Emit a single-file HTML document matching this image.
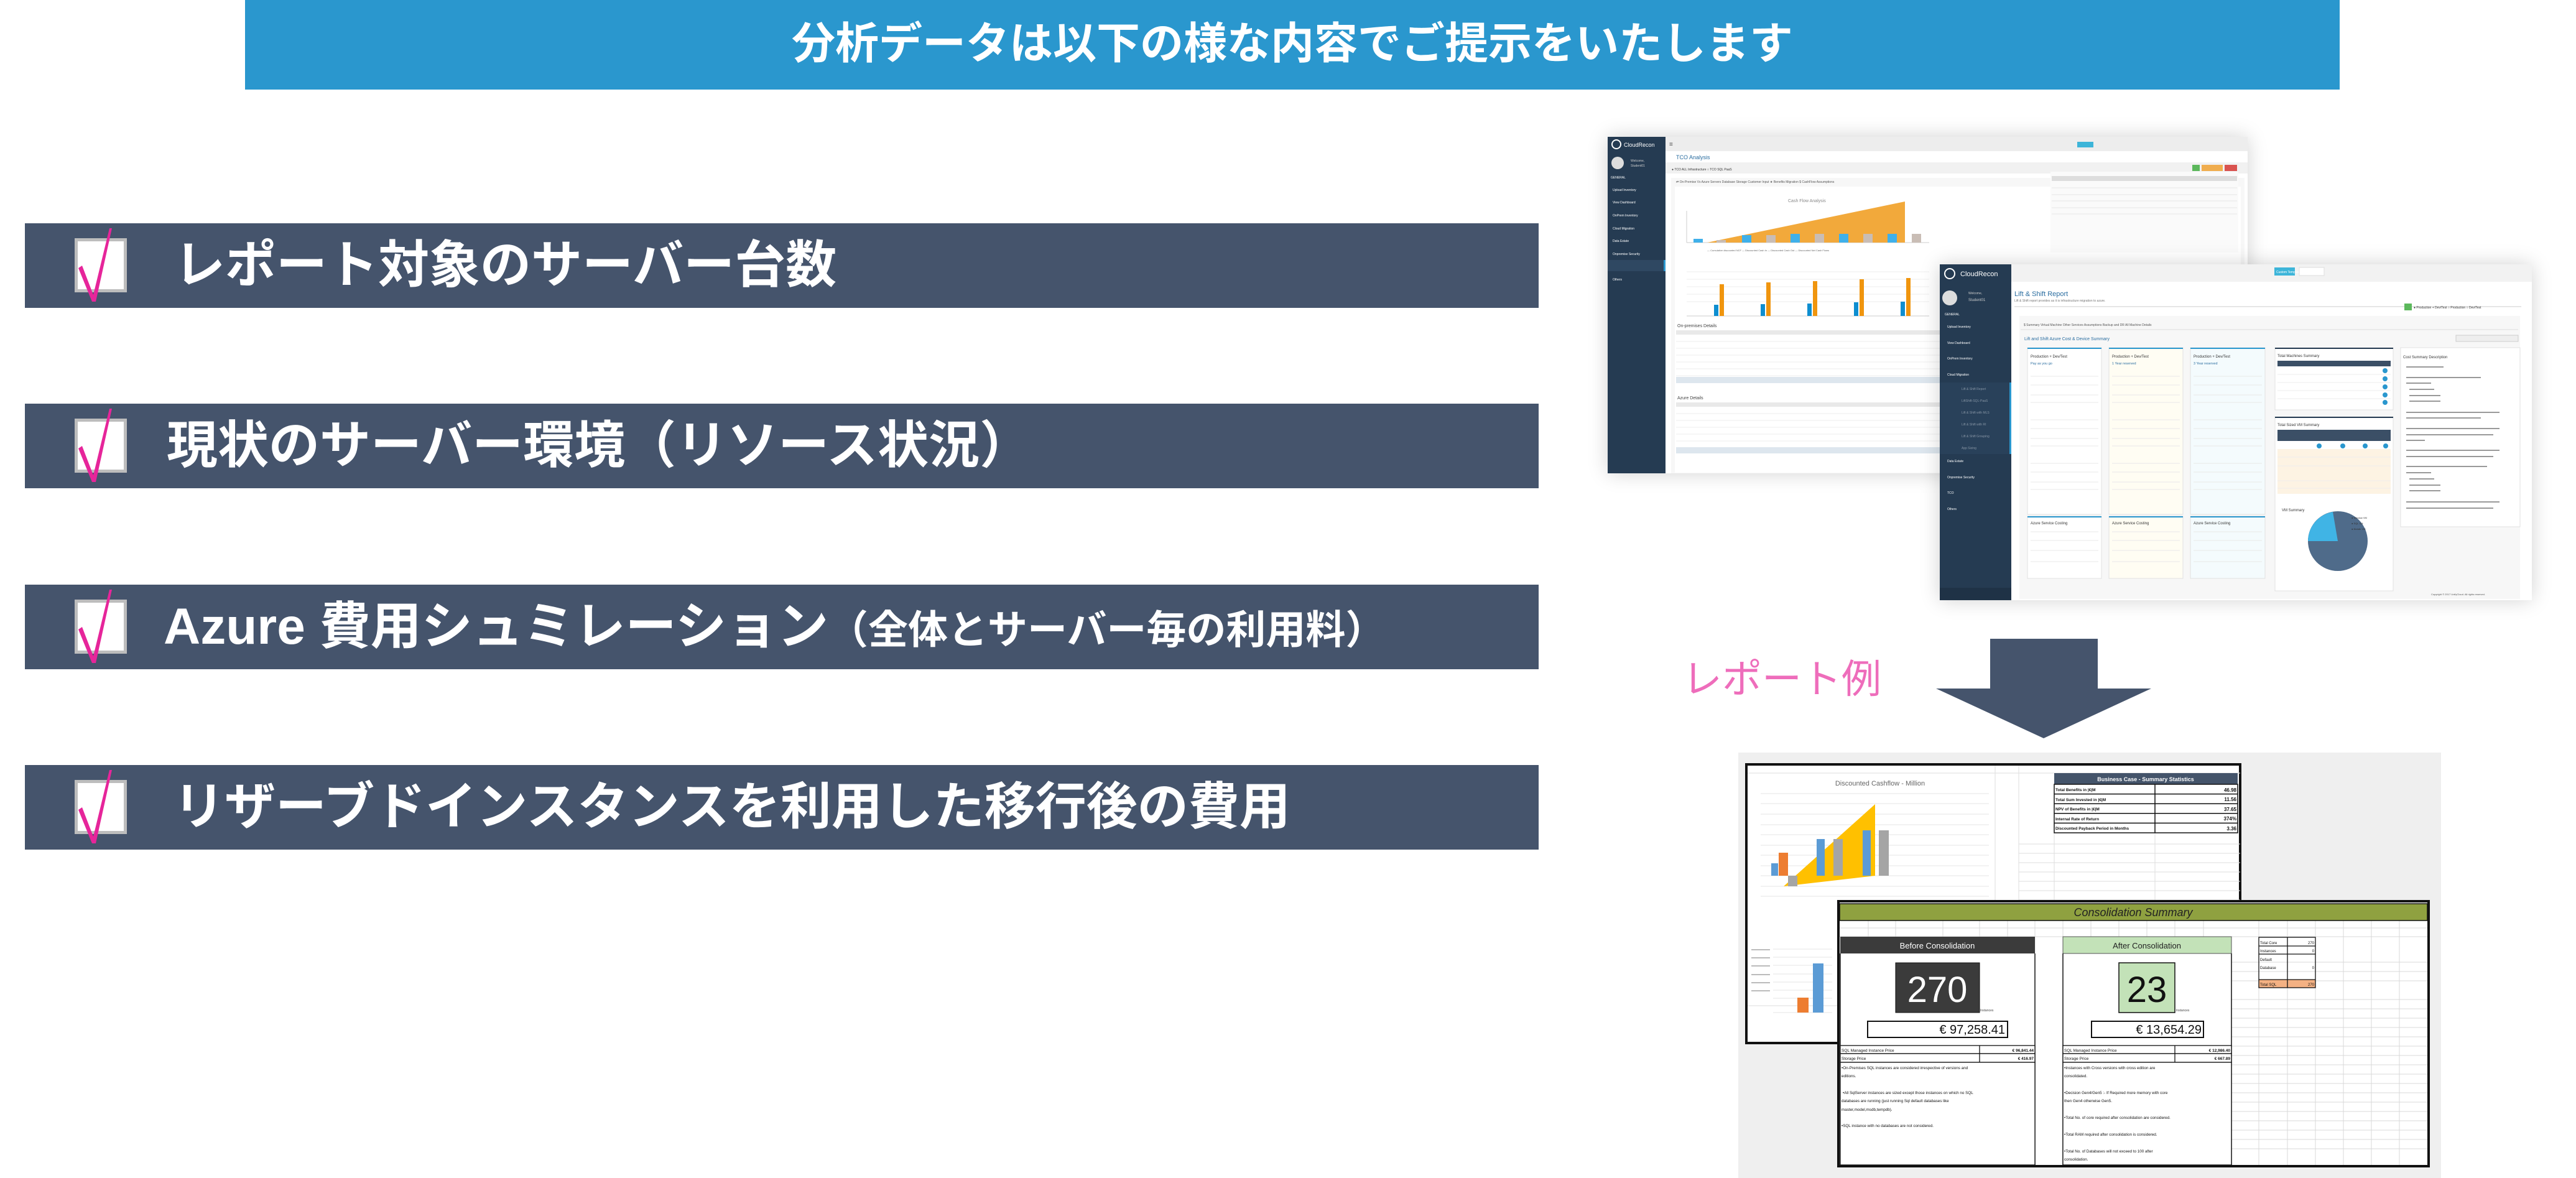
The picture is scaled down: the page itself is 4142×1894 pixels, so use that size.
<!DOCTYPE html>
<html><head><meta charset="utf-8"><style>
*{margin:0;padding:0;box-sizing:border-box}
body{width:4142px;height:1894px;background:#fff;position:relative;overflow:hidden;font-family:"Liberation Sans","Noto Sans CJK JP",sans-serif}
.abs{position:absolute}
.hdr{left:394px;top:0;width:3368px;height:144px;background:#2A97CE;color:#fff;font-weight:bold;font-size:70px;text-align:center;line-height:140px}
.bar{left:40px;width:2434px;height:136px;background:#45546C}
.cb{position:absolute;left:80px;top:24px;width:84px;height:87px;background:#fff;border:5px solid #bdbdbd}
.bt{position:absolute;left:237px;top:0;line-height:136px;color:#fff;font-weight:bold;font-size:82px;white-space:nowrap}
.shot{box-shadow:0 0 30px rgba(0,0,0,0.18)}
</style></head><body>
<div class="abs hdr">分析データは以下の様な内容でご提示をいたします</div>

<div class="abs bar" style="top:359px"><div class="cb"></div><svg class="abs" style="left:80px;top:0" width="100" height="136"><polygon points="6,72 12,68 30,115 56,8 60,8 34,126 28,126" fill="#E6259A"/></svg><div class="bt" style="left:240px">レポート対象のサーバー台数</div></div>
<div class="abs bar" style="top:649px"><div class="cb"></div><svg class="abs" style="left:80px;top:0" width="100" height="136"><polygon points="6,72 12,68 30,115 56,8 60,8 34,126 28,126" fill="#E6259A"/></svg><div class="bt" style="left:228px">現状のサーバー環境（リソース状況）</div></div>
<div class="abs bar" style="top:940px"><div class="cb"></div><svg class="abs" style="left:80px;top:0" width="100" height="136"><polygon points="6,72 12,68 30,115 56,8 60,8 34,126 28,126" fill="#E6259A"/></svg><div class="bt" style="left:223px">Azure 費用シュミレーション<span style="font-size:64px">（全体とサーバー毎の利用料）</span></div></div>
<div class="abs bar" style="top:1230px"><div class="cb"></div><svg class="abs" style="left:80px;top:0" width="100" height="136"><polygon points="6,72 12,68 30,115 56,8 60,8 34,126 28,126" fill="#E6259A"/></svg><div class="bt" style="left:239px">リザーブドインスタンスを利用した移行後の費用</div></div>

<!-- Screenshot 1 -->
<svg class="abs shot" style="left:2585px;top:220px" width="1029" height="541" viewBox="0 0 1029 541" font-family="Liberation Sans,sans-serif">
<rect width="1029" height="541" fill="#fff"/>
<rect x="0" y="0" width="1029" height="23" fill="#ededed"/>
<rect x="93" y="23" width="936" height="18" fill="#fff"/>
<rect x="93" y="41" width="936" height="18" fill="#f1f1f1"/>
<rect x="0" y="0" width="93" height="541" fill="#253B52"/>
<circle cx="14" cy="12" r="7" fill="none" stroke="#fff" stroke-width="2"/>
<text x="26" y="16" font-size="9" fill="#fff">CloudRecon</text>
<circle cx="16" cy="42" r="10" fill="#ddd"/>
<text x="37" y="40" font-size="5" fill="#ccc">Welcome,</text><text x="37" y="48" font-size="5" fill="#ccc">Student01</text>
<g font-size="5" fill="#fff"><text x="5" y="67">GENERAL</text><text x="8" y="87">Upload Inventory</text><text x="8" y="107">View Dashboard</text><text x="8" y="128">OnPrem Inventory</text><text x="8" y="149">Cloud Migration</text><text x="8" y="169">Data Estate</text><text x="8" y="190">Onpremise Security</text><text x="8" y="210">TCO</text><text x="8" y="231">Others</text></g>
<rect x="0" y="198" width="93" height="18" fill="#2f4862"/><rect x="90" y="198" width="3" height="18" fill="#2A97CE"/>
<text x="99" y="15" font-size="10" fill="#555">≡</text>
<text x="110" y="36" font-size="9" fill="#2A6DA0">TCO Analysis</text>
<text x="103" y="54" font-size="5" fill="#333">● TCO ALL Infrastructure  ○ TCO SQL PaaS</text>
<rect x="755" y="8" width="26" height="9" fill="#3DB5D9"/><rect x="940" y="45" width="12" height="10" fill="#5cb85c"/><rect x="955" y="45" width="34" height="10" fill="#F0AD4E"/><rect x="992" y="45" width="20" height="10" fill="#d9534f"/>
<rect x="102" y="66" width="922" height="475" fill="#f7f7f7"/>
<rect x="108" y="80" width="910" height="460" fill="#fff"/>
<text x="110" y="74" font-size="5" fill="#555">⇄ On-Premise Vs Azure    Servers    Database    Storage    Customer Input    ★ Benefits    Migration    $ CashFlow    Assumptions</text>
<text x="290" y="105" font-size="7" fill="#888">Cash Flow Analysis</text>
<line x1="127" y1="119" x2="127" y2="170" stroke="#ccc"/><line x1="127" y1="170" x2="517" y2="170" stroke="#ccc"/>
<polygon points="160,170 478,104 478,170" fill="#F2A93B"/>
<g fill="#3fb0ea"><rect x="138" y="164" width="15" height="6"/><rect x="216" y="158" width="15" height="12"/><rect x="294" y="156" width="15" height="14"/><rect x="372" y="156" width="15" height="14"/><rect x="450" y="156" width="15" height="14"/></g>
<g fill="#c9bdb5"><rect x="175" y="166" width="15" height="4"/><rect x="255" y="158" width="15" height="12"/><rect x="333" y="156" width="15" height="14"/><rect x="411" y="156" width="15" height="14"/><rect x="489" y="156" width="15" height="14"/></g>
<text x="160" y="184" font-size="4" fill="#666">— Cumulative discounted NCF — Discounted Cash In — Discounted Cash Out — Discounted Net Cash Flows</text>
<g stroke="#eee"><line x1="127" y1="217" x2="517" y2="217"/><line x1="127" y1="229" x2="517" y2="229"/><line x1="127" y1="241" x2="517" y2="241"/><line x1="127" y1="253" x2="517" y2="253"/><line x1="127" y1="265" x2="517" y2="265"/></g>
<line x1="127" y1="288" x2="517" y2="288" stroke="#ccc"/>
<g fill="#F0950E"><rect x="180" y="237" width="7" height="51"/><rect x="255" y="234" width="7" height="54"/><rect x="330" y="232" width="7" height="56"/><rect x="405" y="229" width="7" height="59"/><rect x="480" y="227" width="7" height="61"/></g>
<g fill="#0e8ed0"><rect x="171" y="270" width="7" height="18"/><rect x="246" y="269" width="7" height="19"/><rect x="321" y="268" width="7" height="20"/><rect x="396" y="266" width="7" height="22"/><rect x="471" y="265" width="7" height="23"/></g>
<rect x="712" y="56" width="302" height="130" fill="#fafafa"/>
<rect x="714" y="63" width="298" height="8" fill="#ddd"/>
<g stroke="#e5e5e5"><line x1="714" y1="82" x2="1012" y2="82"/><line x1="714" y1="93" x2="1012" y2="93"/><line x1="714" y1="103" x2="1012" y2="103"/><line x1="714" y1="114" x2="1012" y2="114"/><line x1="714" y1="124" x2="1012" y2="124"/></g>
<text x="112" y="306" font-size="7" fill="#444">On-premises Details</text>
<rect x="110" y="311" width="430" height="7" fill="#e9e9e9"/>
<g stroke="#eee"><line x1="110" y1="329" x2="540" y2="329"/><line x1="110" y1="340" x2="540" y2="340"/><line x1="110" y1="351" x2="540" y2="351"/><line x1="110" y1="362" x2="540" y2="362"/><line x1="110" y1="373" x2="540" y2="373"/><line x1="110" y1="384" x2="540" y2="384"/></g>
<rect x="110" y="386" width="430" height="10" fill="#dde6ee"/>
<text x="112" y="422" font-size="7" fill="#444">Azure Details</text>
<rect x="110" y="427" width="430" height="7" fill="#e9e9e9"/>
<g stroke="#eee"><line x1="110" y1="445" x2="540" y2="445"/><line x1="110" y1="456" x2="540" y2="456"/><line x1="110" y1="467" x2="540" y2="467"/><line x1="110" y1="478" x2="540" y2="478"/><line x1="110" y1="489" x2="540" y2="489"/></g>
<rect x="110" y="499" width="430" height="10" fill="#dde6ee"/>
</svg>

<!-- Screenshot 2 -->
<svg class="abs shot" style="left:3119px;top:425px" width="952" height="540" viewBox="0 0 952 540" font-family="Liberation Sans,sans-serif">
<rect width="952" height="540" fill="#fff"/>
<rect x="115" y="0" width="837" height="28" fill="#f2f2f2"/>
<rect x="0" y="0" width="115" height="540" fill="#253B52"/>
<rect x="0" y="520" width="115" height="20" fill="#1f3246"/>
<circle cx="16" cy="15" r="8" fill="none" stroke="#fff" stroke-width="2"/>
<text x="33" y="19" font-size="11" fill="#fff">CloudRecon</text>
<circle cx="16" cy="54" r="12" fill="#ddd"/>
<text x="46" y="48" font-size="5" fill="#ccc">Welcome,</text><text x="46" y="59" font-size="6" fill="#ccc">Student01</text>
<g font-size="5" fill="#fff"><text x="8" y="82">GENERAL</text><text x="12" y="102">Upload Inventory</text><text x="12" y="128">View Dashboard</text><text x="12" y="153">OnPrem Inventory</text><text x="12" y="179">Cloud Migration</text><text x="35" y="202">Lift &amp; Shift Report</text><text x="35" y="221">LiftShift-SQL-PaaS</text><text x="35" y="240">Lift &amp; Shift with MLS</text><text x="35" y="259">Lift &amp; Shift with RI</text><text x="35" y="278">Lift &amp; Shift Grouping</text><text x="35" y="297">App Sizing</text><text x="12" y="318">Data Estate</text><text x="12" y="344">Onpremise Security</text><text x="12" y="369">TCO</text><text x="12" y="395">Others</text></g>
<rect x="0" y="190" width="115" height="115" fill="#2d4660" opacity="0.6"/>
<rect x="112" y="190" width="3" height="115" fill="#2A97CE"/>
<rect x="538" y="5" width="33" height="13" fill="#3DB5D9"/><text x="541" y="14" font-size="5" fill="#fff">Custom Template</text>
<rect x="578" y="5" width="40" height="13" fill="#fff" stroke="#ddd"/>
<text x="120" y="51" font-size="11" fill="#2A6DA0">Lift &amp; Shift Report</text>
<text x="120" y="60" font-size="5" fill="#777">Lift &amp; Shift report provides as it is infrastructure migration to azure.</text>
<line x1="120" y1="68" x2="935" y2="68" stroke="#ccc"/>
<rect x="747" y="63" width="12" height="11" fill="#5cb85c"/>
<text x="762" y="71" font-size="5" fill="#333">● Production + Dev/Test ○ Production ○ Dev/Test</text>
<rect x="128" y="83" width="805" height="455" fill="#f7f7f7"/>
<text x="135" y="99" font-size="5" fill="#555">$ Summary   Virtual Machine   Other Services   Assumptions   Backup and DR   All Machine Details</text>
<line x1="130" y1="105" x2="930" y2="105" stroke="#ddd"/>
<text x="136" y="122" font-size="7" fill="#2A6DA0">Lift and Shift Azure Cost &amp; Device Summary</text>
<rect x="830" y="114" width="100" height="10" fill="#eee" stroke="#ccc"/>
<g>
<rect x="141" y="134" width="119" height="268" fill="#fff" stroke="#e0e0e0"/><rect x="141" y="134" width="119" height="2" fill="#2A97CE"/>
<rect x="272" y="134" width="119" height="268" fill="#fffdf3" stroke="#e0e0e0"/><rect x="272" y="134" width="119" height="2" fill="#2A97CE"/>
<rect x="403" y="134" width="120" height="268" fill="#f4fbfd" stroke="#e0e0e0"/><rect x="403" y="134" width="120" height="2" fill="#2A97CE"/>
<rect x="141" y="405" width="119" height="100" fill="#fff" stroke="#e0e0e0"/><rect x="141" y="405" width="119" height="2" fill="#2A97CE"/>
<rect x="272" y="405" width="119" height="100" fill="#fffdf3" stroke="#e0e0e0"/><rect x="272" y="405" width="119" height="2" fill="#2A97CE"/>
<rect x="403" y="405" width="120" height="100" fill="#f4fbfd" stroke="#e0e0e0"/><rect x="403" y="405" width="120" height="2" fill="#2A97CE"/>
</g>
<g font-size="6" fill="#333"><text x="146" y="150">Production + Dev/Test</text><text x="277" y="150">Production + Dev/Test</text><text x="408" y="150">Production + Dev/Test</text>
<text x="146" y="418">Azure Service Costing</text><text x="277" y="418">Azure Service Costing</text><text x="408" y="418">Azure Service Costing</text></g>
<g font-size="5.5" fill="#2A6DA0"><text x="146" y="161">Pay as you go</text><text x="277" y="161">1 Year reserved</text><text x="408" y="161">3 Year reserved</text></g>
<g stroke="#e8e8e8">
<line x1="146" y1="180" x2="255" y2="180"/><line x1="146" y1="194" x2="255" y2="194"/><line x1="146" y1="210" x2="255" y2="210"/><line x1="146" y1="222" x2="255" y2="222"/><line x1="146" y1="250" x2="255" y2="250"/><line x1="146" y1="264" x2="255" y2="264"/><line x1="146" y1="280" x2="255" y2="280"/><line x1="146" y1="292" x2="255" y2="292"/><line x1="146" y1="320" x2="255" y2="320"/><line x1="146" y1="334" x2="255" y2="334"/><line x1="146" y1="350" x2="255" y2="350"/><line x1="146" y1="362" x2="255" y2="362"/>
<line x1="277" y1="180" x2="386" y2="180"/><line x1="277" y1="194" x2="386" y2="194"/><line x1="277" y1="210" x2="386" y2="210"/><line x1="277" y1="222" x2="386" y2="222"/><line x1="277" y1="250" x2="386" y2="250"/><line x1="277" y1="264" x2="386" y2="264"/><line x1="277" y1="280" x2="386" y2="280"/><line x1="277" y1="292" x2="386" y2="292"/><line x1="277" y1="320" x2="386" y2="320"/><line x1="277" y1="334" x2="386" y2="334"/><line x1="277" y1="350" x2="386" y2="350"/><line x1="277" y1="362" x2="386" y2="362"/>
<line x1="408" y1="180" x2="518" y2="180"/><line x1="408" y1="194" x2="518" y2="194"/><line x1="408" y1="210" x2="518" y2="210"/><line x1="408" y1="222" x2="518" y2="222"/><line x1="408" y1="250" x2="518" y2="250"/><line x1="408" y1="264" x2="518" y2="264"/><line x1="408" y1="280" x2="518" y2="280"/><line x1="408" y1="292" x2="518" y2="292"/><line x1="408" y1="320" x2="518" y2="320"/><line x1="408" y1="334" x2="518" y2="334"/><line x1="408" y1="350" x2="518" y2="350"/><line x1="408" y1="362" x2="518" y2="362"/>
<line x1="146" y1="430" x2="255" y2="430"/><line x1="146" y1="444" x2="255" y2="444"/><line x1="146" y1="460" x2="255" y2="460"/><line x1="146" y1="478" x2="255" y2="478"/>
<line x1="277" y1="430" x2="386" y2="430"/><line x1="277" y1="444" x2="386" y2="444"/><line x1="277" y1="460" x2="386" y2="460"/><line x1="277" y1="478" x2="386" y2="478"/>
<line x1="408" y1="430" x2="518" y2="430"/><line x1="408" y1="444" x2="518" y2="444"/><line x1="408" y1="460" x2="518" y2="460"/><line x1="408" y1="478" x2="518" y2="478"/>
</g>
<rect x="539" y="134" width="190" height="100" fill="#fff" stroke="#e0e0e0"/><rect x="539" y="134" width="190" height="2" fill="#253B52"/>
<text x="543" y="149" font-size="6" fill="#333">Total Machines Summary</text>
<rect x="543" y="155" width="182" height="9" fill="#3b4f66"/>
<g stroke="#eee"><line x1="543" y1="177" x2="725" y2="177"/><line x1="543" y1="190" x2="725" y2="190"/><line x1="543" y1="203" x2="725" y2="203"/><line x1="543" y1="216" x2="725" y2="216"/></g>
<g fill="#2A97CE"><circle cx="716" cy="171" r="4"/><circle cx="716" cy="184" r="4"/><circle cx="716" cy="197" r="4"/><circle cx="716" cy="210" r="4"/><circle cx="716" cy="222" r="4"/></g>
<rect x="539" y="245" width="190" height="280" fill="#fff" stroke="#e0e0e0"/><rect x="539" y="245" width="190" height="2" fill="#253B52"/>
<text x="543" y="260" font-size="6" fill="#333">Total Sized VM Summary</text>
<rect x="543" y="266" width="182" height="18" fill="#3b4f66"/>
<g fill="#2A97CE"><circle cx="610" cy="292" r="4"/><circle cx="648" cy="292" r="4"/><circle cx="684" cy="292" r="4"/><circle cx="717" cy="292" r="4"/></g>
<rect x="543" y="297" width="182" height="72" fill="#fdf3e3"/>
<g stroke="#eee"><line x1="543" y1="310" x2="725" y2="310"/><line x1="543" y1="324" x2="725" y2="324"/><line x1="543" y1="348" x2="725" y2="348"/><line x1="543" y1="360" x2="725" y2="360"/></g>
<text x="550" y="397" font-size="6" fill="#333">VM Summary</text>
<circle cx="640" cy="445" r="48" fill="#4F6B8A"/>
<path d="M640,445 L592,445 A48,48 0 0 1 632,398 Z" fill="#40B4E5"/>
<g font-size="4" fill="#333"><text x="662" y="409">● Window VM</text><text x="662" y="418">● SQL VM</text><text x="662" y="427">● Biztalk VM</text></g>
<rect x="741" y="134" width="192" height="288" fill="#fff" stroke="#e0e0e0"/>
<text x="745" y="151" font-size="6" fill="#333">Cost Summary Description</text>
<g fill="#999"><rect x="750" y="164" width="60" height="2"/><rect x="750" y="181" width="120" height="2"/><rect x="750" y="190" width="40" height="2"/><rect x="755" y="200" width="40" height="2"/><rect x="755" y="210" width="50" height="2"/><rect x="755" y="219" width="50" height="2"/><rect x="750" y="237" width="150" height="2"/><rect x="750" y="246" width="120" height="2"/><rect x="750" y="263" width="150" height="2"/><rect x="750" y="273" width="140" height="2"/><rect x="750" y="282" width="30" height="2"/><rect x="750" y="298" width="150" height="2"/><rect x="750" y="308" width="140" height="2"/><rect x="750" y="324" width="130" height="2"/><rect x="750" y="334" width="40" height="2"/><rect x="755" y="344" width="40" height="2"/><rect x="755" y="354" width="50" height="2"/><rect x="755" y="363" width="50" height="2"/><rect x="750" y="381" width="150" height="2"/><rect x="750" y="391" width="140" height="2"/></g>
<text x="790" y="532" font-size="4" fill="#555">Copyright © 2017 UnifyCloud. All rights reserved.</text>
</svg>

<div class="abs" style="left:2705px;top:1052px;font-size:64px;color:#EE6DBB;white-space:nowrap;line-height:80px">レポート例</div>
<svg class="abs" style="left:3113px;top:1027px" width="346" height="160"><polygon points="87,0 260,0 260,80 346,80 173,160 0,80 87,80" fill="#45546C"/></svg>

<!-- bottom image -->
<div class="abs" style="left:2795px;top:1210px;width:1130px;height:684px;background:#efefef"></div>
<svg class="abs" style="left:2806px;top:1227px" width="798" height="452" viewBox="0 0 798 452" font-family="Liberation Sans,sans-serif">
<rect x="2" y="2" width="794" height="448" fill="#fff" stroke="#111" stroke-width="4"/>
<g stroke="#ddd"><line x1="4" y1="16" x2="796" y2="16"/><line x1="4" y1="390" x2="796" y2="390"/><line x1="402" y1="4" x2="402" y2="450"/><line x1="440" y1="4" x2="440" y2="450"/>
<line x1="440" y1="130" x2="796" y2="130"/><line x1="440" y1="145" x2="796" y2="145"/><line x1="440" y1="160" x2="796" y2="160"/><line x1="440" y1="175" x2="796" y2="175"/><line x1="440" y1="190" x2="796" y2="190"/><line x1="440" y1="205" x2="796" y2="205"/><line x1="440" y1="220" x2="796" y2="220"/><line x1="497" y1="112" x2="497" y2="230"/><line x1="659" y1="112" x2="659" y2="230"/></g>
<text x="217" y="36" font-size="11" fill="#666" text-anchor="middle">Discounted Cashflow - Million</text>
<g stroke="#e4e4e4"><line x1="25" y1="49" x2="392" y2="49"/><line x1="25" y1="65" x2="392" y2="65"/><line x1="25" y1="82" x2="392" y2="82"/><line x1="25" y1="99" x2="392" y2="99"/><line x1="25" y1="115" x2="392" y2="115"/><line x1="25" y1="132" x2="392" y2="132"/><line x1="25" y1="148" x2="392" y2="148"/><line x1="25" y1="165" x2="392" y2="165"/><line x1="25" y1="181" x2="392" y2="181"/><line x1="25" y1="198" x2="392" y2="198"/><line x1="25" y1="214" x2="392" y2="214"/></g>
<polygon points="62,198 209,66 209,181" fill="#FFC000"/>
<rect x="42" y="161" width="11" height="20" fill="#5B9BD5"/><rect x="54" y="144" width="15" height="37" fill="#ED7D31"/><rect x="69" y="181" width="15" height="17" fill="#A5A5A5"/>
<rect x="115" y="122" width="13" height="59" fill="#5B9BD5"/><rect x="142" y="122" width="15" height="59" fill="#A5A5A5"/>
<rect x="189" y="108" width="13" height="73" fill="#5B9BD5"/><rect x="215" y="108" width="16" height="73" fill="#A5A5A5"/>
<rect x="497" y="16" width="295" height="18" fill="#44546A"/>
<text x="644" y="29" font-size="9" fill="#fff" text-anchor="middle" font-weight="bold">Business Case - Summary Statistics</text>
<g stroke="#111" stroke-width="1.5" fill="none"><rect x="497" y="34" width="295" height="78"/><line x1="659" y1="34" x2="659" y2="112"/><line x1="497" y1="49.6" x2="792" y2="49.6"/><line x1="497" y1="65.2" x2="792" y2="65.2"/><line x1="497" y1="80.8" x2="792" y2="80.8"/><line x1="497" y1="96.4" x2="792" y2="96.4"/></g>
<g font-size="6.5" font-weight="bold" fill="#111"><text x="499" y="45">Total Benefits in |€|M</text><text x="499" y="61">Total Sum Invested in |€|M</text><text x="499" y="76">NPV of Benefits in |€|M</text><text x="499" y="92">Internal Rate of Return</text><text x="499" y="107">Discounted Payback Period in Months</text></g>
<g font-size="8" font-weight="bold" fill="#111" text-anchor="end"><text x="790" y="46">46.98</text><text x="790" y="61">11.56</text><text x="790" y="77">37.65</text><text x="790" y="92">374%</text><text x="790" y="108">3.36</text></g>
<g stroke="#e4e4e4"><line x1="45" y1="299" x2="140" y2="299"/><line x1="45" y1="312" x2="140" y2="312"/><line x1="45" y1="325" x2="140" y2="325"/><line x1="45" y1="339" x2="140" y2="339"/><line x1="45" y1="352" x2="140" y2="352"/><line x1="45" y1="365" x2="140" y2="365"/><line x1="45" y1="378" x2="140" y2="378"/><line x1="45" y1="401" x2="140" y2="401"/></g>
<rect x="109" y="322" width="17" height="79" fill="#5B9BD5"/><rect x="84" y="377" width="18" height="24" fill="#ED7D31"/>
<g fill="#bbb"><rect x="10" y="299" width="30" height="2"/><rect x="10" y="312" width="30" height="2"/><rect x="10" y="325" width="30" height="2"/><rect x="10" y="339" width="30" height="2"/><rect x="10" y="352" width="30" height="2"/><rect x="10" y="365" width="30" height="2"/></g>
</svg>

<svg class="abs" style="left:2954px;top:1447px" width="953" height="430" viewBox="0 0 953 430" font-family="Liberation Sans,sans-serif">
<rect x="2" y="2" width="949" height="426" fill="#fff" stroke="#111" stroke-width="4"/>
<g stroke="#d9d9d9">
<line x1="4" y1="45" x2="949" y2="45"/><line x1="4" y1="59" x2="949" y2="59"/><line x1="634" y1="100" x2="949" y2="100"/><line x1="634" y1="115" x2="949" y2="115"/><line x1="634" y1="130" x2="949" y2="130"/><line x1="634" y1="160" x2="949" y2="160"/><line x1="634" y1="175" x2="949" y2="175"/><line x1="634" y1="190" x2="949" y2="190"/><line x1="634" y1="205" x2="949" y2="205"/><line x1="634" y1="220" x2="949" y2="220"/><line x1="634" y1="235" x2="949" y2="235"/><line x1="634" y1="250" x2="949" y2="250"/><line x1="634" y1="265" x2="949" y2="265"/><line x1="634" y1="280" x2="949" y2="280"/><line x1="634" y1="295" x2="949" y2="295"/><line x1="634" y1="310" x2="949" y2="310"/><line x1="634" y1="325" x2="949" y2="325"/><line x1="634" y1="340" x2="949" y2="340"/><line x1="634" y1="355" x2="949" y2="355"/><line x1="634" y1="370" x2="949" y2="370"/><line x1="634" y1="385" x2="949" y2="385"/><line x1="634" y1="400" x2="949" y2="400"/>
<line x1="318" y1="33" x2="318" y2="426"/><line x1="363" y1="33" x2="363" y2="426"/><line x1="678" y1="33" x2="678" y2="426"/><line x1="724" y1="33" x2="724" y2="426"/><line x1="769" y1="33" x2="769" y2="426"/><line x1="814" y1="33" x2="814" y2="426"/><line x1="859" y1="33" x2="859" y2="426"/><line x1="904" y1="33" x2="904" y2="426"/>
<line x1="50" y1="33" x2="50" y2="59"/><line x1="94" y1="33" x2="94" y2="59"/><line x1="170" y1="33" x2="170" y2="59"/><line x1="229" y1="33" x2="229" y2="59"/><line x1="274" y1="33" x2="274" y2="59"/><line x1="408" y1="33" x2="408" y2="59"/><line x1="453" y1="33" x2="453" y2="59"/><line x1="498" y1="33" x2="498" y2="59"/><line x1="543" y1="33" x2="543" y2="59"/><line x1="589" y1="33" x2="589" y2="59"/>
</g>
<rect x="4" y="6" width="945" height="27" fill="#8FA140" stroke="#111" stroke-width="1.5"/>
<text x="476" y="26" font-size="18" font-style="italic" fill="#222" text-anchor="middle">Consolidation Summary</text>
<rect x="5" y="59" width="313" height="27" fill="#3B3B3B"/>
<text x="161" y="78" font-size="13" fill="#fff" text-anchor="middle">Before Consolidation</text>
<rect x="363" y="59" width="271" height="27" fill="#C3E2B8" stroke="#555"/>
<text x="498" y="78" font-size="13" fill="#222" text-anchor="middle">After Consolidation</text>
<g stroke="#111" stroke-width="1.5" fill="none"><line x1="5" y1="86" x2="5" y2="426"/><line x1="318" y1="86" x2="318" y2="426"/><line x1="363" y1="86" x2="363" y2="426"/><line x1="634" y1="86" x2="634" y2="426"/></g>
<rect x="94" y="101" width="135" height="80" fill="#3B3B3B" stroke="#111"/>
<text x="161" y="164" font-size="58" fill="#fff" text-anchor="middle">270</text>
<rect x="453" y="101" width="90" height="80" fill="#C3E2B8" stroke="#111" stroke-width="1.5"/>
<text x="498" y="164" font-size="58" fill="#111" text-anchor="middle">23</text>
<text x="230" y="179" font-size="5" fill="#444">Instances</text><text x="545" y="179" font-size="5" fill="#444">Instances</text>
<rect x="49" y="195" width="225" height="26" fill="#fff" stroke="#111" stroke-width="2"/>
<text x="270" y="215" font-size="20" fill="#111" text-anchor="end">€ 97,258.41</text>
<rect x="409" y="195" width="180" height="26" fill="#fff" stroke="#111" stroke-width="2"/>
<text x="586" y="215" font-size="20" fill="#111" text-anchor="end">€ 13,654.29</text>
<g stroke="#111" stroke-width="1.3" fill="#fff"><rect x="5" y="234" width="313" height="13"/><rect x="5" y="247" width="313" height="14"/><rect x="363" y="234" width="271" height="13"/><rect x="363" y="247" width="271" height="14"/><rect x="5" y="261" width="313" height="165"/><rect x="363" y="261" width="271" height="165"/></g>
<g stroke="#111" stroke-width="1.3"><line x1="229" y1="234" x2="229" y2="261"/><line x1="543" y1="234" x2="543" y2="261"/></g>
<g font-size="6.5" fill="#111"><text x="7" y="244">SQL Managed Instance Price</text><text x="7" y="257">Storage Price</text><text x="365" y="244">SQL Managed Instance Price</text><text x="365" y="257">Storage Price</text></g>
<g font-size="6.5" font-weight="bold" fill="#111" text-anchor="end"><text x="316" y="244">€ 96,841.44</text><text x="316" y="257">€ 416.97</text><text x="632" y="244">€ 12,986.40</text><text x="632" y="257">€ 667.89</text></g>
<g font-size="6.3" fill="#111">
<text x="7" y="272">•On-Premises SQL instances are considered irrespective of versions and</text><text x="7" y="285">editions.</text>
<text x="9" y="312">•All SqlServer instances are sized except those instances on which no SQL</text><text x="7" y="325">databases are running (just running Sql default databases like</text><text x="7" y="339">master,model,msdb,tempdb).</text>
<text x="7" y="365">•SQL instance with no databases are not considered.</text>
<text x="365" y="272">•Instances with Cross versions with cross edition are</text><text x="365" y="285">consolidated.</text>
<text x="365" y="312">•Decision Gen4/Gen5 :- If Required more memory with core</text><text x="365" y="325">then Gen4 otherwise Gen5.</text>
<text x="365" y="352">•Total No. of core required after consolidation are considered.</text>
<text x="365" y="379">•Total RAM required after consolidation is considered.</text>
<text x="365" y="406">•Total No. of Databases will not exceed to 100 after</text><text x="365" y="419">consolidation.</text>
</g>
<rect x="678" y="128" width="91" height="13" fill="#F4B183"/>
<g stroke="#111" stroke-width="1.3" fill="none"><rect x="678" y="60" width="91" height="81"/><line x1="724" y1="60" x2="724" y2="141"/><line x1="678" y1="74" x2="769" y2="74"/><line x1="678" y1="87" x2="769" y2="87"/><line x1="678" y1="128" x2="769" y2="128"/></g>
<g font-size="6" fill="#111"><text x="680" y="71">Total Core</text><text x="680" y="84">Instances</text><text x="680" y="98">Default</text><text x="680" y="111">Database</text><text x="680" y="138">Total SQL</text></g>
<g font-size="6" fill="#111" text-anchor="end"><text x="767" y="71">270</text><text x="767" y="84">0</text><text x="767" y="111">0</text><text x="767" y="138">270</text></g>
</svg>
</body></html>
